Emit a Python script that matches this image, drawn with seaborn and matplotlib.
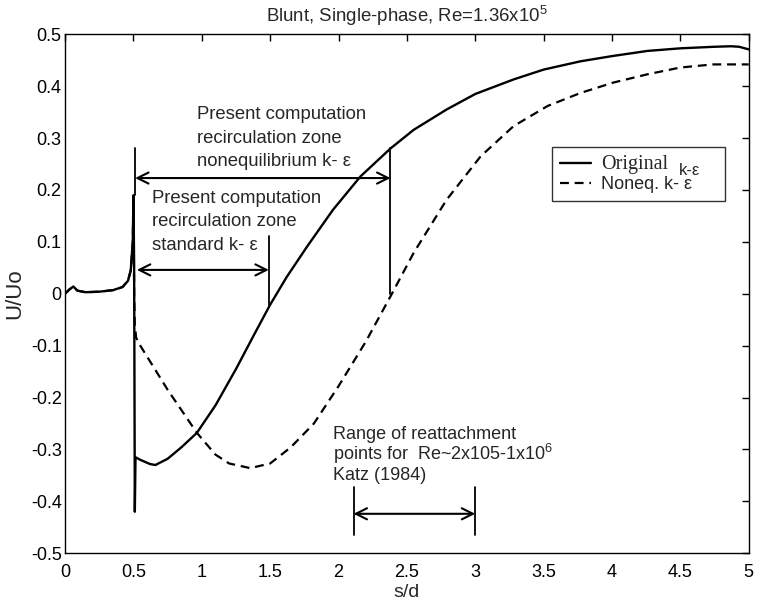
import numpy as np
import pandas as pd
import matplotlib
matplotlib.use("Agg")
import matplotlib.pyplot as plt
import seaborn as sns

# Centreline velocity behind the blunt body, s/d vs U/Uo
s_original = [0.0, 0.03, 0.06, 0.09, 0.15, 0.25, 0.35, 0.42, 0.46, 0.48, 0.495, 0.50,
              0.505, 0.51, 0.515, 0.55, 0.62, 0.66, 0.75, 0.85, 0.964, 1.1, 1.25,
              1.38, 1.5, 1.62, 1.77, 1.96, 2.16, 2.38, 2.55, 2.79, 3.0, 3.28, 3.5,
              3.77, 4.0, 4.26, 4.5, 4.75, 4.87, 4.93, 5.0]
u_original = [0.0, 0.008, 0.014, 0.006, 0.003, 0.004, 0.007, 0.013, 0.025, 0.045, 0.10, 0.19,
              0.05, -0.42, -0.315, -0.32, -0.328, -0.330, -0.318, -0.296, -0.268, -0.215, -0.145,
              -0.08, -0.021, 0.032, 0.091, 0.162, 0.226, 0.280, 0.316, 0.355, 0.385, 0.413, 0.432,
              0.448, 0.458, 0.468, 0.473, 0.476, 0.477, 0.476, 0.471]

s_noneq = [0.0, 0.03, 0.06, 0.09, 0.15, 0.25, 0.35, 0.42, 0.46, 0.48, 0.495, 0.50,
           0.505, 0.51, 0.52, 0.55, 0.75, 0.964, 1.1, 1.2, 1.354, 1.5, 1.65, 1.82, 2.0,
           2.2, 2.38, 2.55, 2.79, 3.04, 3.28, 3.53, 3.77, 4.01, 4.26, 4.5, 4.74, 5.0]
u_noneq = [0.0, 0.008, 0.014, 0.006, 0.003, 0.004, 0.007, 0.013, 0.025, 0.045, 0.10, 0.19,
           0.0, -0.06, -0.085, -0.10, -0.185, -0.268, -0.31, -0.327, -0.336, -0.327, -0.296,
           -0.25, -0.178, -0.092, -0.005, 0.079, 0.181, 0.265, 0.323, 0.362, 0.387, 0.407,
           0.423, 0.436, 0.442, 0.442]

# Recirculation zone extents (s/d) and Katz (1984) reattachment range
noneq_zone = (0.512, 2.38)
standard_zone = (0.525, 1.49)
katz_range = (2.11, 3.0)

x_ticks = [0, 0.5, 1, 1.5, 2, 2.5, 3, 3.5, 4, 4.5, 5]
x_labels = ["0", "0.5", "1", "1.5", "2", "2.5", "3", "3.5", "4", "4.5", "5"]
y_ticks = [-0.5, -0.4, -0.3, -0.2, -0.1, 0, 0.1, 0.2, 0.3, 0.4, 0.5]
y_labels = ["-0.5", "-0.4", "-0.3", "-0.2", "-0.1", "0", "0.1", "0.2", "0.3", "0.4", "0.5"]

sns.set_style("white")
plt.rcParams["font.family"] = ["Liberation Sans", "DejaVu Sans"]
plt.rcParams["mathtext.fontset"] = "custom"
plt.rcParams["mathtext.rm"] = "Liberation Sans"

df_orig = pd.DataFrame({"s/d": s_original, "U/Uo": u_original})
df_noneq = pd.DataFrame({"s/d": s_noneq, "U/Uo": u_noneq})

fig = plt.figure(figsize=(7.57, 6.02), dpi=100)
ax = fig.add_axes([0.086, 0.081, 0.903, 0.862])

sns.lineplot(data=df_orig, x="s/d", y="U/Uo", ax=ax, color="black", lw=1.7,
             sort=False, estimator=None, label="Original")
sns.lineplot(data=df_noneq, x="s/d", y="U/Uo", ax=ax, color="black", lw=1.6,
             sort=False, estimator=None, label="Noneq. k- \u03b5")
ax.lines[1].set_dashes((4, 2.6))

ax.set_xlim(0, 5)
ax.set_ylim(-0.5, 0.5)
ax.set_xticks(x_ticks)
ax.set_xticklabels(x_labels)
ax.set_yticks(y_ticks)
ax.set_yticklabels(y_labels)
ax.tick_params(direction="in", length=5, width=1, top=True, right=True,
               labelsize=13, colors="black")
ax.tick_params(axis="x", pad=8)
ax.tick_params(axis="y", pad=2.5)
for sp in ax.spines.values():
    sp.set_color("black")
    sp.set_linewidth(1.0)

ax.set_xlabel("s/d", fontsize=14, labelpad=2)
ax.set_ylabel("U/Uo", fontsize=16, labelpad=4)
ax.set_title("Blunt, Single-phase, Re=1.36x10$^5$", fontsize=13.4, pad=9)

arrow = dict(arrowstyle="<->", color="black", lw=1.5, shrinkA=0, shrinkB=0,
             mutation_scale=20)
text_kw = dict(fontsize=13.3, va="baseline", ha="left")

# Nonequilibrium k-epsilon recirculation zone
ax.plot([noneq_zone[0]] * 2, [0.28, 0.19], color="black", lw=1.3)
ax.plot([noneq_zone[1]] * 2, [0.28, 0.0], color="black", lw=1.3)
ax.annotate("", xy=(noneq_zone[1], 0.223), xytext=(noneq_zone[0], 0.223), arrowprops=arrow)
for yv, line in zip([0.336, 0.291, 0.246],
                    ["Present computation", "recirculation zone", "nonequilibrium k- \u03b5"]):
    ax.text(0.964, yv, line, **text_kw)

# Standard k-epsilon recirculation zone
ax.plot([standard_zone[1]] * 2, [0.111, -0.021], color="black", lw=1.3)
ax.annotate("", xy=(standard_zone[1], 0.046), xytext=(standard_zone[0], 0.046), arrowprops=arrow)
for yv, line in zip([0.175, 0.130, 0.085],
                    ["Present computation", "recirculation zone", "standard k- \u03b5"]):
    ax.text(0.634, yv, line, **text_kw)

# Reattachment range from Katz (1984)
for xv in katz_range:
    ax.plot([xv, xv], [-0.373, -0.465], color="black", lw=1.3)
ax.annotate("", xy=(katz_range[1], -0.424), xytext=(katz_range[0], -0.424), arrowprops=arrow)
for yv, line in zip([-0.279, -0.320, -0.358],
                    ["Range of reattachment", "points for  Re~2x105-1x10$^{6}$", "Katz (1984)"]):
    ax.text(1.96, yv, line, fontsize=13.0, va="baseline", ha="left")

leg = ax.legend(loc="upper left", bbox_to_anchor=(0.712, 0.683, 0.253, 0.1), mode="expand",
                frameon=True, fancybox=False, edgecolor="black", fontsize=13,
                handlelength=1.7, borderpad=0.45, labelspacing=0.1, handletextpad=0.6,
                borderaxespad=0)
leg.get_frame().set_linewidth(1.0)
t0 = leg.get_texts()[0]
t0.set_fontfamily("Liberation Serif")
t0.set_fontsize(14.5)
ax.annotate("k-\u03b5", xy=(0, 0.5), xycoords=t0, xytext=(77, -6),
            textcoords="offset pixels", fontsize=12, va="center", ha="left", zorder=10)

fig.savefig("out.png", dpi=100)
